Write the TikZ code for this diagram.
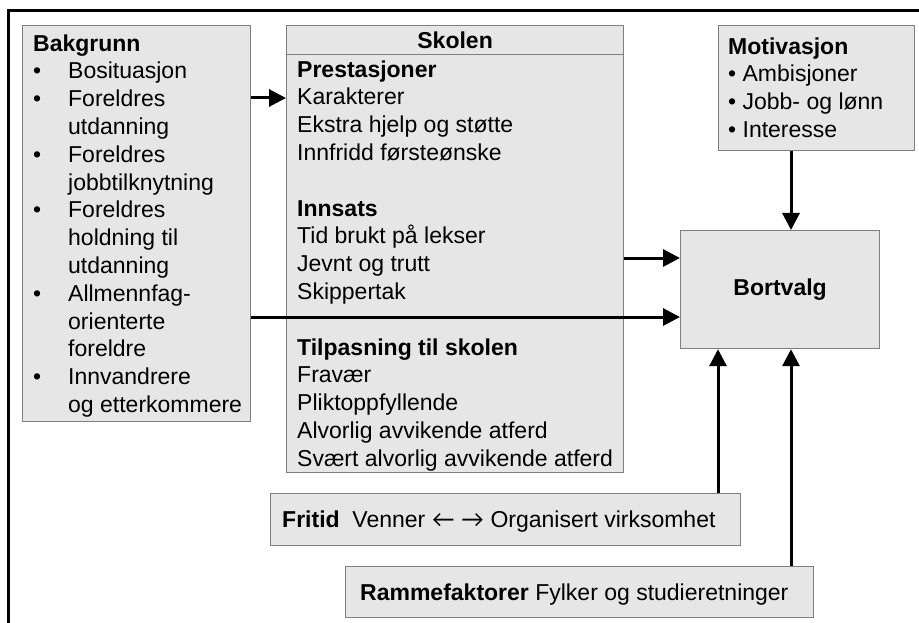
\documentclass[tikz,border=0pt]{standalone}
\usepackage{fontspec}
\setmainfont{Liberation Sans}
\newfontfamily\pilfont{Lato}
\usetikzlibrary{arrows.meta}
\definecolor{boksfyll}{HTML}{E6E6E6}
\definecolor{bokskant}{HTML}{7F7F7F}
\tikzset{
  boks/.style={draw=bokskant, fill=boksfyll, line width=1.2pt, inner sep=0pt, anchor=north west},
  tekst/.style={inner sep=0pt, anchor=north west, font=\fontsize{23}{27.8}\selectfont},
  pil/.style={-{Triangle[length=17pt,width=17pt]}, line width=3pt}
}

\begin{document}
\begin{tikzpicture}[x=1pt,y=-1pt]
\useasboundingbox (0,0) rectangle (919,623);
\fill[white] (0,0) rectangle (919,623);

% --- Outer frame ---
\draw[line width=3pt] (8,623) -- (8,11) -- (920,11);

% --- Boxes ---
\node[boks, minimum width=228pt, minimum height=396pt] (bak) at (22,25) {};
\node[boks, minimum width=337pt, minimum height=29pt, font=\fontsize{23}{27.8}\selectfont\bfseries] (skolehode) at (286,25) {Skolen};
\node[boks, minimum width=337pt, minimum height=418pt] (skole) at (286,54) {};
\node[boks, minimum width=196pt, minimum height=125pt] (motiv) at (718,25) {};
\node[boks, minimum width=199pt, minimum height=118pt, font=\fontsize{23}{27.8}\selectfont\bfseries] (bort) at (680,230) {Bortvalg};
\node[boks, minimum width=470pt, minimum height=52pt] (fritid) at (270,493) {};
\node[boks, minimum width=468pt, minimum height=51pt] (ramme) at (345,566) {};

% --- Texts ---
\node[tekst] (baktekst) at (33,31.5) {\begin{tabular}{@{}p{35pt}@{}l@{}}
  \multicolumn{2}{@{}l@{}}{\textbf{Bakgrunn}}\\
  \textbullet & Bosituasjon\\
  \textbullet & Foreldres\\
              & utdanning\\
  \textbullet & Foreldres\\
              & jobbtilknytning\\
  \textbullet & Foreldres\\
              & holdning til\\
              & utdanning\\
  \textbullet & Allmennfag-\\
              & orienterte\\
              & foreldre\\
  \textbullet & Innvandrere\\
              & og etterkommere
\end{tabular}};
\node[tekst] (skoletekst) at (297,57.5) {\begin{tabular}{@{}l@{}}
  \textbf{Prestasjoner}\\
  Karakterer\\
  Ekstra hjelp og støtte\\
  Innfridd førsteønske\\
  \\
  \textbf{Innsats}\\
  Tid brukt på lekser\\
  Jevnt og trutt\\
  Skippertak\\
  \\
  \textbf{Tilpasning til skolen}\\
  Fravær\\
  Pliktoppfyllende\\
  Alvorlig avvikende atferd\\
  Svært alvorlig avvikende atferd
\end{tabular}};
\node[tekst] (motivtekst) at (728,34.5) {\begin{tabular}{@{}l@{}}
  \textbf{Motivasjon}\\
  \textbullet{} Ambisjoner\\
  \textbullet{} Jobb- og lønn\\
  \textbullet{} Interesse
\end{tabular}};
\node[tekst, anchor=base west] (fritidtekst) at (282,527) {\textbf{Fritid}\ \ Venner {\pilfont ←} {\pilfont →} Organisert virksomhet};
\node[tekst, anchor=base west] (rammetekst) at (360,600) {\textbf{Rammefaktorer} Fylker og studieretninger};

% --- Arrows ---
\coordinate (h1) at (0,98);
\coordinate (h2) at (0,258);
\coordinate (h3) at (0,317);
\coordinate (v1) at (718,0);
\coordinate (v2) at (791,0);
\draw[pil] (bak.east |- h1) -- (skole.west |- h1);
\draw[pil] (skole.east |- h2) -- (bort.west |- h2);
\draw[pil] (bak.east |- h3) -- (bort.west |- h3);
\draw[pil] (motiv.south -| v2) -- (bort.north -| v2);
\draw[pil] (fritid.north -| v1) -- (bort.south -| v1);
\draw[pil] (ramme.north -| v2) -- (bort.south -| v2);

\end{tikzpicture}
\end{document}
